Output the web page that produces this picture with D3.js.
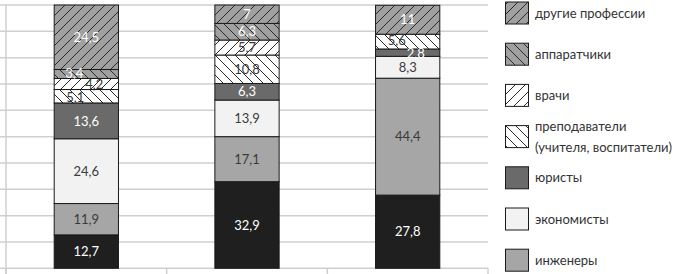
<!DOCTYPE html>
<html><head><meta charset="utf-8">
<script src="https://cdn.jsdelivr.net/npm/d3@7"></script>
<style>
html,body{margin:0;padding:0;background:#fff;}
svg{display:block;}
</style></head>
<body>
<svg id="chart" width="677" height="274"></svg>
<script>
// ---- data ----
const categories = ["1", "2", "3"];
const seriesNames = ["рабочие", "инженеры", "экономисты", "юристы",
  "преподаватели (учителя, воспитатели)", "врачи", "аппаратчики", "другие профессии"];
const values1 = [12.7, 11.9, 24.6, 13.6, 5.1, 4.2, 3.4, 24.5];
const values2 = [32.9, 17.1, 13.9, 6.3, 10.8, 5.7, 6.3, 7];
const values3 = [27.8, 44.4, 8.3, 2.8, 5.6, 0, 0, 11];
const yTicks = [0, 10, 20, 30, 40, 50, 60, 70, 80, 90, 100];
const legendOrder = ["другие профессии", "аппаратчики", "врачи",
  "преподаватели (учителя, воспитатели)", "юристы", "экономисты", "инженеры"];

// ---- styles (by series index) ----
const styles = [
  {fill: "#1f1f1f", text: "#ffffff"},
  {fill: "#a6a6a6", text: "#3a3a3a"},
  {fill: "#f2f2f2", text: "#3a3a3a"},
  {fill: "#6a6a6a", text: "#ffffff"},
  {fill: "url(#bk-white)", text: "#3a3a3a"},
  {fill: "url(#fw-white)", text: "#3a3a3a"},
  {fill: "url(#bk-gray)", text: "#ffffff"},
  {fill: "url(#fw-gray)", text: "#ffffff"}
];
// small label nudges for crowded thin segments (category index, series index -> [dx, dy])
const nudges = {"0-6": [-12, -1], "0-5": [8, 0], "0-4": [-11, 1], "2-4": [-11, -1], "2-3": [8, 1]};

const allValues = [values1, values2, values3];
const table = categories.map((c, i) => {
  const row = {cat: c, idx: i};
  seriesNames.forEach((s, j) => row[s] = allValues[i][j]);
  return row;
});

const svg = d3.select("#chart");
const defs = svg.append("defs");
function pattern(id, bg, dir) {
  const p = defs.append("pattern").attr("id", id)
    .attr("patternUnits", "userSpaceOnUse").attr("width", 10).attr("height", 10);
  p.append("rect").attr("width", 10).attr("height", 10).attr("fill", bg);
  const d = dir === "fw"
    ? "M-2.5,2.5 l5,-5 M0,10 l10,-10 M7.5,12.5 l5,-5"
    : "M-2.5,7.5 l5,5 M0,0 l10,10 M7.5,-2.5 l5,5";
  p.append("path").attr("d", d).attr("stroke", "#2a2a2a").attr("stroke-width", 1);
}
pattern("fw-gray", "#a0a0a0", "fw");
pattern("bk-gray", "#a0a0a0", "bk");
pattern("fw-white", "#ffffff", "fw");
pattern("bk-white", "#ffffff", "bk");

const x = d3.scaleBand().domain(categories).range([6, 488]).paddingInner(0.6).paddingOuter(0.3);
const y = d3.scaleLinear().domain([0, 100]).range([268.3, 5]);

// gridlines
svg.append("g").selectAll("line").data(yTicks).join("line")
  .attr("x1", 0).attr("x2", 488)
  .attr("y1", d => y(d)).attr("y2", d => y(d))
  .attr("stroke", "#cfcfcf").attr("stroke-width", 1.5);
// left axis line
svg.append("line").attr("x1", 6).attr("x2", 6).attr("y1", y(100)).attr("y2", 274)
  .attr("stroke", "#cfcfcf").attr("stroke-width", 1.5);
// bottom axis ticks at category boundaries
const step = (488 - 6) / categories.length;
const bounds = d3.range(categories.length + 1).map(i => 6 + i * step);
svg.append("g").selectAll("line").data(bounds).join("line")
  .attr("x1", d => d).attr("x2", d => d).attr("y1", y(0)).attr("y2", 274)
  .attr("stroke", "#cfcfcf").attr("stroke-width", 1.5);

const stack = d3.stack().keys(seriesNames)(table);

const g = svg.append("g");
stack.forEach((layer, j) => {
  layer.forEach(d => {
    const v = d[1] - d[0];
    if (v <= 0) return;
    g.append("rect")
      .attr("x", x(d.data.cat)).attr("width", x.bandwidth())
      .attr("y", y(d[1])).attr("height", y(d[0]) - y(d[1]))
      .attr("fill", styles[j].fill).attr("stroke", "#1a1a1a").attr("stroke-width", 1);
  });
});
stack.forEach((layer, j) => {
  layer.forEach(d => {
    const v = d[1] - d[0];
    if (v <= 0) return;
    const n = nudges[d.data.idx + "-" + j] || [0, 0];
    g.append("text")
      .attr("x", x(d.data.cat) + x.bandwidth() / 2 + n[0])
      .attr("y", (y(d[0]) + y(d[1])) / 2 + n[1])
      .attr("dy", "0.36em")
      .attr("text-anchor", "middle")
      .attr("font-family", "Lato, 'Open Sans', sans-serif")
      .attr("font-size", 13)
      .attr("fill", styles[j].text)
      .text(String(v.toFixed(1)).replace(/\.0$/, "").replace(".", ","));
  });
});

// legend
const lg = svg.append("g");
legendOrder.forEach((name, i) => {
  const j = seriesNames.indexOf(name);
  const cy = 13 + i * 41.2;
  lg.append("rect").attr("x", 505.5).attr("y", cy - 11).attr("width", 23).attr("height", 22)
    .attr("fill", styles[j].fill).attr("stroke", "#1a1a1a").attr("stroke-width", 1);
  const t = lg.append("text").attr("x", 535).attr("y", cy)
    .attr("font-family", "Lato, 'Open Sans', sans-serif").attr("font-size", 13)
    .attr("fill", "#333");
  if (name.indexOf("(") > 0) {
    const parts = ["преподаватели", "(учителя, воспитатели)"];
    t.append("tspan").attr("x", 535).attr("y", cy - 10).attr("dy", "0.35em").text(parts[0]);
    t.append("tspan").attr("x", 535).attr("y", cy + 11).attr("dy", "0.35em").text(parts[1]);
  } else {
    t.attr("dy", "0.35em").text(name);
  }
});
</script>
</body></html>
